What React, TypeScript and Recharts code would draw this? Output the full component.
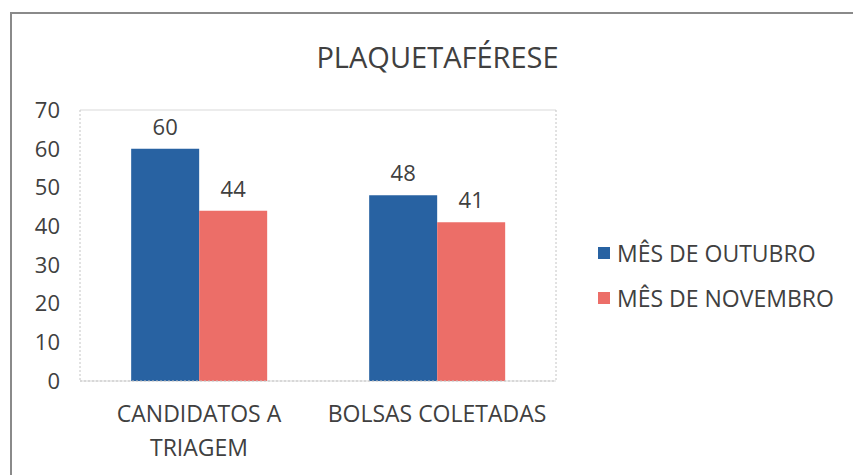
import { Bar, BarChart, CartesianGrid, LabelList, XAxis, YAxis } from "recharts";

const categories = ["CANDIDATOS A TRIAGEM", "BOLSAS COLETADAS"];
const outubro = [60, 48];
const novembro = [44, 41];
const yTicks = [0, 10, 20, 30, 40, 50, 60, 70];
const seriesNames = ["MÊS DE OUTUBRO", "MÊS DE NOVEMBRO"];

const data = categories.map((name, i) => ({ name, outubro: outubro[i], novembro: novembro[i] }));

const TEXT = "#404040";
const FONT = "'Open Sans', sans-serif";
const BLUE = "#2862a2";
const RED = "#ec6e68";
const seriesColors = [BLUE, RED];
const BORDER = { stroke: "#c4c4c4", strokeDasharray: "2 2" };

function CategoryTick({ x, y, payload }: any) {
  const words: string[] = String(payload.value).split(" ");
  // long label wraps its last word onto a second line, like the original
  const lines = payload.value.length > 17 ? [words.slice(0, -1).join(" "), words[words.length - 1]] : [payload.value];
  return (
    <text x={x} y={y} textAnchor="middle" fill={TEXT} fontSize={23} fontFamily={FONT}>
      {lines.map((line, i) => (
        <tspan key={i} x={x} dy={i === 0 ? 33 : 34}>
          {line}
        </tspan>
      ))}
    </text>
  );
}

export default function App() {
  return (
    <div style={{ position: "absolute", left: 0, top: 0, width: 853, height: 475, background: "#fff", overflow: "hidden" }}>
      <div
        style={{
          position: "absolute",
          left: 10,
          top: 12,
          width: 860,
          height: 480,
          border: "2px solid #8a8a8a",
          boxSizing: "border-box",
        }}
      />
      <div
        style={{
          position: "absolute",
          left: 0,
          top: 37,
          width: 875,
          textAlign: "center",
          fontFamily: FONT,
          fontSize: 29,
          color: TEXT,
        }}
      >
        PLAQUETAFÉRESE
      </div>
      <div style={{ position: "absolute", left: 598, top: 230, fontFamily: FONT, fontSize: 23, color: TEXT }}>
        {seriesNames.map((name, i) => (
          <div key={name} style={{ display: "flex", alignItems: "center", height: 45 }}>
            <span style={{ width: 12, height: 12, background: seriesColors[i], marginRight: 7 }} />
            {name}
          </div>
        ))}
      </div>
      <div style={{ position: "absolute", left: 0, top: 0 }}>
        <BarChart
          width={853}
          height={475}
          data={data}
          margin={{ top: 110, right: 295, bottom: 0, left: 50 }}
          barCategoryGap="21.5%"
          barGap={0}
        >
          <CartesianGrid vertical={false} stroke="#d9d9d9" />
          <XAxis dataKey="name" height={94} axisLine={BORDER} tickLine={false} interval={0} tick={<CategoryTick />} />
          <XAxis xAxisId="top" orientation="top" dataKey="name" height={0} axisLine={BORDER} tick={false} tickLine={false} />
          <YAxis
            yAxisId="left"
            width={30}
            domain={[0, 70]}
            ticks={yTicks}
            tickLine={false}
            tickMargin={14}
            axisLine={BORDER}
            tick={{ fill: TEXT, fontSize: 22, fontFamily: FONT }}
          />
          <YAxis
            yAxisId="right"
            orientation="right"
            width={2}
            domain={[0, 70]}
            tick={false}
            tickLine={false}
            axisLine={BORDER}
          />
          <Bar yAxisId="left" dataKey="outubro" name={seriesNames[0]} fill={BLUE} isAnimationActive={false}>
            <LabelList dataKey="outubro" position="top" offset={14} fill={TEXT} fontSize={22} fontFamily={FONT} />
          </Bar>
          <Bar yAxisId="left" dataKey="novembro" name={seriesNames[1]} fill={RED} isAnimationActive={false}>
            <LabelList dataKey="novembro" position="top" offset={14} fill={TEXT} fontSize={22} fontFamily={FONT} />
          </Bar>
        </BarChart>
      </div>
    </div>
  );
}
